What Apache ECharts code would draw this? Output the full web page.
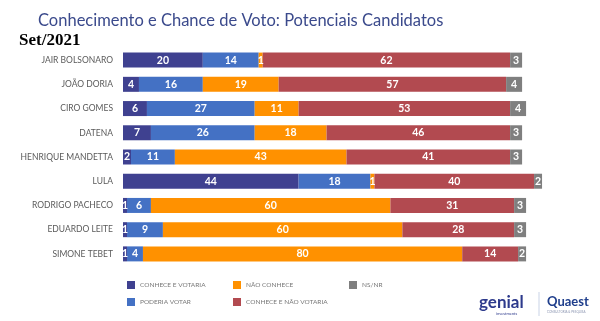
<!DOCTYPE html>
<html>
<head>
<meta charset="utf-8">
<script src="https://cdn.jsdelivr.net/npm/echarts@6/dist/echarts.min.js"></script>
<style>
html,body{margin:0;padding:0;background:#fff;}
#chart{width:600px;height:321px;}
</style>
</head>
<body>
<div id="chart"></div>
<script>
// Candidates, top to bottom
const candidates = ['JAIR BOLSONARO','JOÃO DORIA','CIRO GOMES','DATENA','HENRIQUE MANDETTA','LULA','RODRIGO PACHECO','EDUARDO LEITE','SIMONE TEBET'];

// Percentages per answer
const conheceEVotaria    = [20, 4, 6, 7, 2, 44, 1, 1, 1];
const poderiaVotar       = [14, 16, 27, 26, 11, 18, 6, 9, 4];
const naoConhece         = [1, 19, 11, 18, 43, 1, 60, 60, 80];
const conheceENaoVotaria = [62, 57, 53, 46, 41, 40, 31, 28, 14];
const nsNr               = [3, 4, 4, 3, 3, 2, 3, 3, 2];

const seriesNames = ['CONHECE E VOTARIA','PODERIA VOTAR','NÃO CONHECE','CONHECE E NÃO VOTARIA','NS/NR'];
const seriesData = [conheceEVotaria, poderiaVotar, naoConhece, conheceENaoVotaria, nsNr];
const colors = ['#3f4190','#4471c4','#ff9100','#b24a50','#7f7f7f'];

const FONT = 'Lato, "Open Sans", sans-serif';

const chart = echarts.init(document.getElementById('chart'), null, {renderer:'canvas'});

const series = seriesNames.map((name, i) => ({
  name: name,
  type: 'bar',
  stack: 'total',
  barWidth: 15,
  clip: false,
  data: seriesData[i],
  itemStyle: {color: colors[i]},
  label: {
    show: true,
    position: 'inside',
    color: '#fff',
    fontWeight: 'bold',
    fontSize: 10.5,
    fontFamily: FONT
  },
  emphasis: {disabled: true}
}));

const legendBase = {
  orient: 'vertical',
  top: 276,
  itemWidth: 8,
  itemHeight: 8,
  itemGap: 9,
  icon: 'rect',
  textStyle: {fontSize: 6.5, color: '#777', fontFamily: FONT}
};

chart.setOption({
  animation: false,
  color: colors,
  title: [{
    text: 'Conhecimento e Chance de Voto: Potenciais Candidatos',
    left: 33,
    top: 7,
    textStyle: {fontSize: 16.5, fontWeight: 'normal', color: '#3b4a8c', fontFamily: FONT}
  }, {
    text: 'Set/2021',
    left: 14,
    top: 27,
    textStyle: {fontSize: 17, fontWeight: 'bold', color: '#000', fontFamily: '"Liberation Serif", "DejaVu Serif", serif'}
  }],
  legend: [
    Object.assign({left: 122, data: ['CONHECE E VOTARIA','PODERIA VOTAR']}, legendBase),
    Object.assign({left: 228, data: ['NÃO CONHECE','CONHECE E NÃO VOTARIA']}, legendBase),
    Object.assign({left: 344, data: ['NS/NR']}, legendBase)
  ],
  grid: {left: 123, top: 48, width: 439, height: 218},
  xAxis: {
    type: 'value',
    min: 0,
    max: 110,
    show: false
  },
  yAxis: {
    type: 'category',
    inverse: true,
    data: candidates,
    axisLine: {show: false},
    axisTick: {show: false},
    axisLabel: {fontSize: 8.5, color: '#5a5a5a', margin: 10, fontFamily: FONT}
  },
  series: series,
  graphic: [
    {type: 'text', left: 479, top: 294, style: {text: 'genial', fontSize: 17, fontWeight: 'bold', fill: '#2d3a8c', fontFamily: FONT}},
    {type: 'text', left: 496, top: 312, style: {text: 'investments', fontSize: 4, fill: '#2d3a8c', fontFamily: FONT}},
    {type: 'line', shape: {x1: 539, y1: 292, x2: 539, y2: 316}, style: {stroke: '#c9d3e6', lineWidth: 1}},
    {type: 'text', left: 547, top: 295, style: {text: 'Quaest', fontSize: 13, fontWeight: 'bold', fill: '#1f3e8c', fontFamily: FONT}},
    {type: 'text', left: 547, top: 311, style: {text: 'CONSULTORIA & PESQUISA', fontSize: 3, fill: '#8a94b0', fontFamily: FONT}}
  ]
});
</script>
</body>
</html>
